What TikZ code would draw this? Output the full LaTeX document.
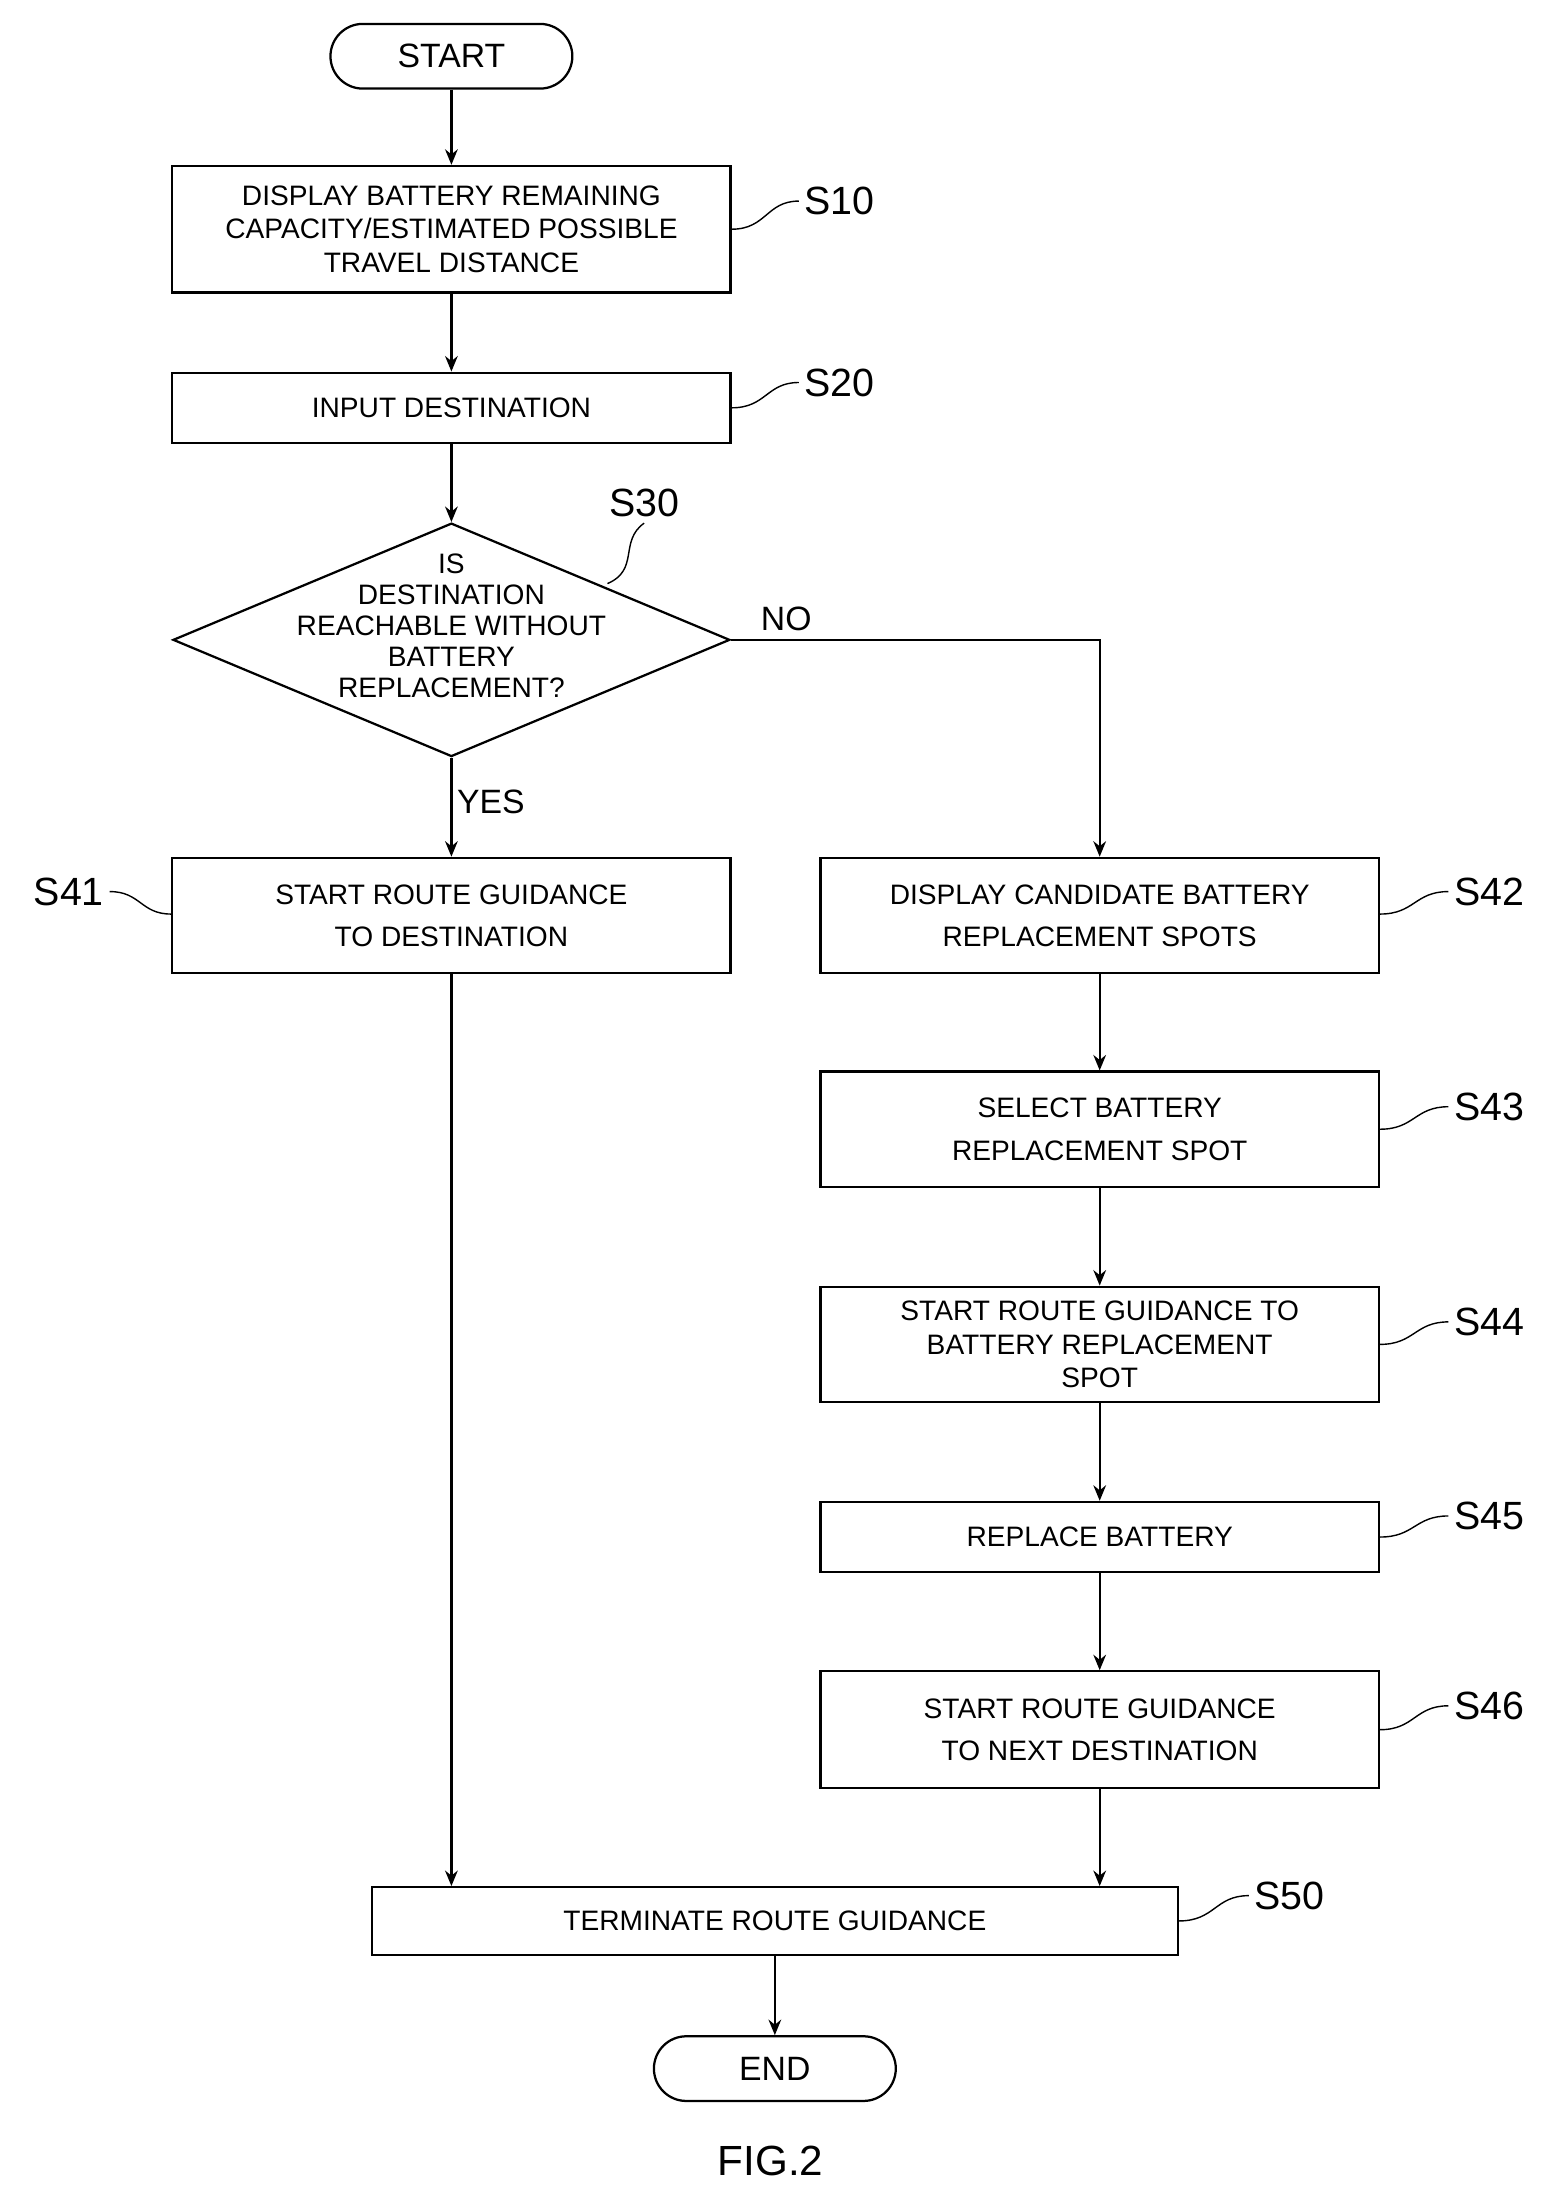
\documentclass[tikz,border=0pt]{standalone}
\usepackage{fontspec}
\setmainfont{Liberation Sans}
\usetikzlibrary{shapes.geometric}
\usetikzlibrary{arrows.meta}
\usetikzlibrary{calc}

\begin{document}
\begin{tikzpicture}[x=1pt, y=-1pt, line width=1.6pt,
	box/.style = {rectangle, draw, minimum width = 397pt, align = center, font = \fontsize{20}{24}\selectfont, inner sep = 0pt},
	term/.style = {rectangle, rounded corners = 23pt, draw, minimum width = 172pt, minimum height = 46pt, font = \fontsize{24}{28}\selectfont},
	lbl/.style = {font = \fontsize{28}{32}\selectfont},
	>={Stealth[length=11pt, width=9pt]}]
		\useasboundingbox (0, 0) rectangle (1110, 1568);

		% terminals
		\node (start) [term] at (321, 40) {START};
		\node (end) [term] at (551, 1471) {END};

		% left column
		\node (s10) [box, minimum height = 90pt] at (321, 163) {DISPLAY BATTERY REMAINING\\CAPACITY/ESTIMATED POSSIBLE\\TRAVEL DISTANCE};
		\node (s20) [box, minimum height = 50pt] at (321, 290) {INPUT DESTINATION};
		\node (s30) [diamond, draw, minimum width = 396pt, minimum height = 166pt, aspect = 2.4, inner sep = 0pt] at (321, 455) {};
		\node (s30t) at (321, 445) [align = center, font = \fontsize{20}{22}\selectfont] {IS\\DESTINATION\\REACHABLE WITHOUT\\BATTERY\\REPLACEMENT?};
		\node (s41) [box, minimum height = 82pt] at (321, 651) {START ROUTE GUIDANCE\\[6pt]TO DESTINATION};

		% right column
		\node (s42) [box, minimum height = 82pt] at (782, 651) {DISPLAY CANDIDATE BATTERY\\[6pt]REPLACEMENT SPOTS};
		\node (s43) [box, minimum height = 82pt] at (782, 803) {SELECT BATTERY\\[6pt]REPLACEMENT SPOT};
		\node (s44) [box, minimum height = 82pt] at (782, 956) {START ROUTE GUIDANCE TO\\BATTERY REPLACEMENT\\SPOT};
		\node (s45) [box, minimum height = 50pt] at (782, 1093) {REPLACE BATTERY};
		\node (s46) [box, minimum height = 83pt] at (782, 1230) {START ROUTE GUIDANCE\\[6pt]TO NEXT DESTINATION};

		\node (s50) [box, minimum width = 573pt, minimum height = 48pt] at (551, 1366) {TERMINATE ROUTE GUIDANCE};

		% step labels
		\node (l10) [lbl, anchor = west] at (568, 143) {S10};
		\node (l20) [lbl, anchor = west] at (568, 272) {S20};
		\node (l30) [lbl] at (458, 358) {S30};
		\node (l41) [lbl, anchor = east] at (78, 634) {S41};
		\node (l42) [lbl, anchor = west] at (1030, 634) {S42};
		\node (l43) [lbl, anchor = west] at (1030, 787) {S43};
		\node (l44) [lbl, anchor = west] at (1030, 940) {S44};
		\node (l45) [lbl, anchor = west] at (1030, 1078) {S45};
		\node (l46) [lbl, anchor = west] at (1030, 1213) {S46};
		\node (l50) [lbl, anchor = west] at (888, 1348) {S50};

		\begin{scope}[line width = 1pt]
		\draw (s10.east) .. controls (545, 163) and (545, 143) .. (l10.west);
		\draw (s20.east) .. controls (545, 290) and (545, 272) .. (l20.west);
		\draw (432, 415) .. controls (455, 405) and (440, 385) .. (l30.south);
		\draw (s41.west |- 0, 650) .. controls (100, 650) and (100, 634) .. (l41.east);
		\draw (s42.east |- 0, 650) .. controls (1006, 650) and (1006, 634) .. (l42.west);
		\draw (s43.east |- 0, 803) .. controls (1006, 803) and (1006, 787) .. (l43.west);
		\draw (s44.east |- 0, 956) .. controls (1006, 956) and (1006, 940) .. (l44.west);
		\draw (s45.east |- 0, 1093) .. controls (1006, 1093) and (1006, 1078) .. (l45.west);
		\draw (s46.east |- 0, 1230) .. controls (1006, 1230) and (1006, 1213) .. (l46.west);
		\draw (s50.east) .. controls (864, 1366) and (864, 1348) .. (l50.west);
		\end{scope}

		% flow
		\draw [->] (start) -- (s10);
		\draw [->] (s10) -- (s20);
		\draw [->] (s20) -- (s30.north);
		\draw [->] (s30.south) -- node [right, font = \fontsize{24}{28}\selectfont, pos = 0.45] {YES} (s41);
		\draw [->] (s30.east) -- node [above, font = \fontsize{24}{28}\selectfont, pos = 0.15, yshift = 2pt] {NO} (s42.north |- s30.east) -- (s42);
		\draw [->] (s42) -- (s43);
		\draw [->] (s43) -- (s44);
		\draw [->] (s44) -- (s45);
		\draw [->] (s45) -- (s46);
		\draw [->] (s41.south) -- (s41.south |- s50.north);
		\draw [->] (s46.south) -- (s46.south |- s50.north);
		\draw [->] (s50) -- (end);

		\node (fig) at (548, 1537) [font = \fontsize{30}{34}\selectfont] {FIG.2};
\end{tikzpicture}
\end{document}
